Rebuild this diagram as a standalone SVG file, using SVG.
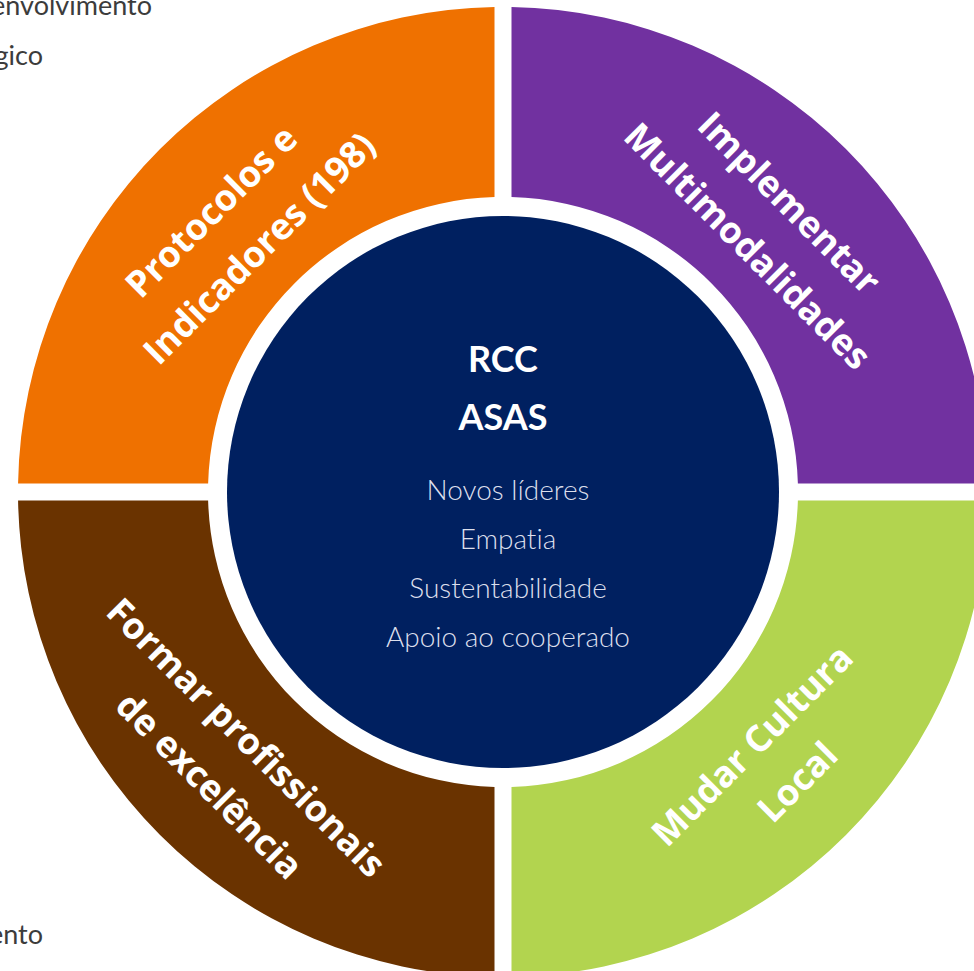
<svg xmlns="http://www.w3.org/2000/svg" width="974" height="971" viewBox="0 0 974 971">
<style>
.ring{font-family:"Open Sans","DejaVu Sans",sans-serif;font-weight:700;font-size:36.5px;fill:#ffffff;text-anchor:middle}
.title{font-family:Lato,"Open Sans",sans-serif;font-weight:700;font-size:36px;fill:#ffffff;text-anchor:middle}
.item{font-family:Lato,"Open Sans",sans-serif;font-weight:300;font-size:28px;fill:#dcdfec;text-anchor:middle;font-variant-ligatures:none}
.side{font-family:Lato,"Open Sans",sans-serif;font-weight:400;font-size:27px;fill:#3c3c3c;text-anchor:end;font-variant-ligatures:none}
</style>
<rect width="974" height="971" fill="#ffffff"/>
<g id="side-texts">
<text class="side" x="152" y="15">envolvimento</text>
<text class="side" x="43" y="65">gico</text>
<text class="side" x="43" y="944">ento</text>
</g>
<g id="node-protocolos">
<path d="M 494.5 7.07 A 485 485 0 0 0 18.07 483.5 L 208.12 483.5 A 295 295 0 0 1 494.5 197.12 Z" fill="#ef7100"/>
<g transform="translate(503,492) rotate(-45)">
<text class="ring" x="-8" y="-392">Protocolos e</text>
<text class="ring" x="0" y="-332">Indicadores (198)</text>
</g>
</g>
<g id="node-implementar">
<path d="M 511.5 7.07 A 485 485 0 0 1 987.93 483.5 L 797.88 483.5 A 295 295 0 0 0 511.5 197.12 Z" fill="#7131a0"/>
<g transform="translate(503,492) rotate(45)">
<text class="ring" x="-2" y="-394">Implementar</text>
<text class="ring" x="-1" y="-334">Multimodalidades</text>
</g>
</g>
<g id="node-mudar">
<path d="M 987.93 500.5 A 485 485 0 0 1 511.5 976.93 L 511.5 786.88 A 295 295 0 0 0 797.88 500.5 Z" fill="#b2d44f"/>
<g transform="translate(503,492) rotate(-45)">
<text class="ring" x="-3" y="368">Mudar Cultura</text>
<text class="ring" x="3" y="426">Local</text>
</g>
</g>
<g id="node-formar">
<path d="M 494.5 976.93 A 485 485 0 0 1 18.07 500.5 L 208.12 500.5 A 295 295 0 0 0 494.5 786.88 Z" fill="#6a3300"/>
<g transform="translate(503,492) rotate(45)">
<text class="ring" x="-8" y="368">Formar profissionais</text>
<text class="ring" x="0" y="428">de excelência</text>
</g>
</g>
<g id="node-center">
<circle cx="503" cy="492" r="276" fill="#002060"/>
<text class="title" x="503" y="372">RCC</text>
<text class="title" x="503" y="430">ASAS</text>
<text class="item" x="508" y="500">Novos líderes</text>
<text class="item" x="508" y="549">Empatia</text>
<text class="item" x="508" y="598">Sustentabilidade</text>
<text class="item" x="508" y="647">Apoio ao cooperado</text>
</g>
<g id="connectors"/>
</svg>
